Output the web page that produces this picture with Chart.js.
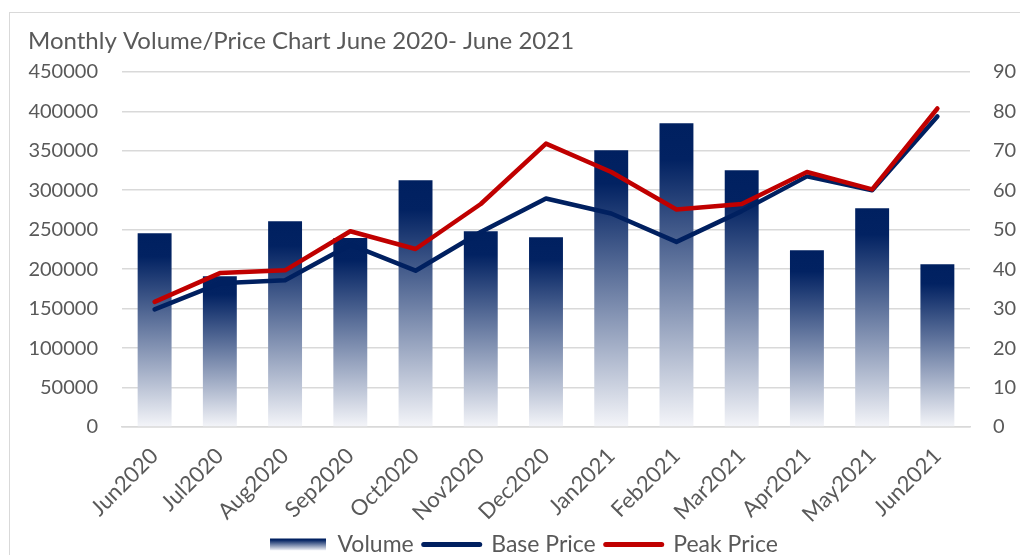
<!DOCTYPE html>
<html>
<head>
<meta charset="utf-8">
<script src="https://cdn.jsdelivr.net/npm/chart.js@4/dist/chart.umd.min.js"></script>
<style>
  html, body { margin: 0; padding: 0; background: #fff; overflow: hidden; }
  #frame { position: absolute; left: 9px; top: 12px; width: 1040px; height: 600px;
           border-left: 1px solid #d9d9d9; border-top: 1px solid #d9d9d9; }
  #wrap { position: absolute; left: 0; top: 0; width: 1020px; height: 566px; }
</style>
</head>
<body>
<div id="frame"></div>
<div id="wrap"><canvas id="chart"></canvas></div>
<script>
// data
const months = ['Jun2020', 'Jul2020', 'Aug2020', 'Sep2020', 'Oct2020', 'Nov2020', 'Dec2020',
                'Jan2021', 'Feb2021', 'Mar2021', 'Apr2021', 'May2021', 'Jun2021'];
const volume = [245500, 191000, 260800, 239600, 312700, 248000, 240500,
                350600, 384800, 325300, 224000, 277200, 206300];
const basePrice = [29.8, 36.4, 37.2, 46.2, 39.6, 49.4, 57.9, 54.1, 46.9, 54.7, 63.5, 60.0, 78.7];
const peakPrice = [31.7, 39.0, 39.7, 49.6, 45.1, 56.5, 71.8, 64.6, 55.1, 56.5, 64.6, 60.2, 80.7];
const volumeTicks = [0, 450000, 50000];   // min, max, step
const priceTicks = [0, 90, 10];
const legendOrder = ['Volume', 'Base Price', 'Peak Price'];

const navy = '#002060';
const red = '#C00000';
const grey = '#595959';
const fontFamily = 'Lato, "Open Sans", sans-serif';

function fade(ctx2d, top, bottom) {
    const g = ctx2d.createLinearGradient(0, top, 0, bottom);
    g.addColorStop(0, navy);
    g.addColorStop(0.12, '#022262');
    g.addColorStop(1, '#f4f5f9');
    return g;
}

// per-bar gradient, dark at the top of each bar
function barFill(context) {
    const chart = context.chart;
    if (!chart.chartArea || context.type !== 'data') return navy;
    const y = chart.scales.y;
    return fade(chart.ctx, y.getPixelForValue(context.raw), y.getPixelForValue(0));
}

// give the legend box for Volume the same fade
const legendFade = {
    id: 'legendFade',
    beforeDraw(chart) {
        const legend = chart.legend;
        if (!legend || !legend.legendHitBoxes || !legend.legendHitBoxes.length) return;
        const hb = legend.legendHitBoxes[0];
        const bh = legend.options.labels.boxHeight;
        const mid = hb.top + legend.options.labels.font.size / 2;
        legend.legendItems[0].fillStyle = fade(chart.ctx, mid - bh / 2, mid + bh / 2);
    }
};

const ctx = document.getElementById('chart').getContext('2d');
const myChart = new Chart(ctx, {
    data: {
        labels: months,
        datasets: [{
            type: 'line',
            label: 'Base Price',
            data: basePrice,
            yAxisID: 'y1',
            borderColor: navy,
            backgroundColor: navy,
            borderWidth: 4.5,
            pointRadius: 0,
            borderJoinStyle: 'round',
            borderCapStyle: 'round',
            order: 1
        }, {
            type: 'line',
            label: 'Peak Price',
            data: peakPrice,
            yAxisID: 'y1',
            borderColor: red,
            backgroundColor: red,
            borderWidth: 4.5,
            pointRadius: 0,
            borderJoinStyle: 'round',
            borderCapStyle: 'round',
            order: 0
        }, {
            type: 'bar',
            label: 'Volume',
            data: volume,
            yAxisID: 'y',
            backgroundColor: barFill,
            categoryPercentage: 1,
            barPercentage: 0.52,
            order: 2
        }]
    },
    options: {
        responsive: true,
        maintainAspectRatio: false,
        animation: false,
        layout: { padding: { left: 28, right: 0, top: 0, bottom: 0 } },
        plugins: {
            title: {
                display: true,
                text: 'Monthly Volume/Price Chart June 2020- June 2021',
                align: 'start',
                color: grey,
                font: { family: fontFamily, size: 24, weight: 'normal' },
                padding: { top: 27, bottom: 16 }
            },
            legend: {
                position: 'bottom',
                labels: {
                    color: grey,
                    font: { family: fontFamily, size: 23 },
                    usePointStyle: true,
                    pointStyleWidth: 56,
                    boxHeight: 12,
                    padding: 10,
                    sort: (a, b) => legendOrder.indexOf(a.text) - legendOrder.indexOf(b.text),
                    generateLabels(chart) {
                        const items = Chart.defaults.plugins.legend.labels.generateLabels(chart);
                        items.forEach(item => {
                            if (item.text === 'Volume') {
                                item.pointStyle = 'rect';
                                item.lineWidth = 0;
                            } else {
                                item.pointStyle = 'line';
                                item.lineWidth = 5;
                                item.lineCap = 'round';
                            }
                        });
                        return items;
                    }
                }
            },
            tooltip: { enabled: false }
        },
        scales: {
            x: {
                grid: { display: false, drawTicks: false },
                border: { display: true, color: '#d9d9d9', width: 1.5 },
                ticks: {
                    color: grey,
                    font: { family: fontFamily, size: 22 },
                    minRotation: 45,
                    maxRotation: 45,
                    padding: 16
                },
                afterFit(scale) { scale.height = 96; }
            },
            y: {
                position: 'left',
                min: volumeTicks[0],
                max: volumeTicks[1],
                grid: { color: '#d9d9d9', lineWidth: 1.5, drawTicks: false },
                border: { display: false },
                ticks: {
                    stepSize: volumeTicks[2],
                    color: grey,
                    font: { family: fontFamily, size: 20 },
                    padding: 24,
                    callback: v => String(v)
                },
                afterFit(scale) { scale.width = 94; }
            },
            y1: {
                position: 'right',
                min: priceTicks[0],
                max: priceTicks[1],
                grid: { display: false, drawTicks: false },
                border: { display: false },
                ticks: {
                    stepSize: priceTicks[2],
                    color: grey,
                    font: { family: fontFamily, size: 20 },
                    padding: 23
                },
                afterFit(scale) { scale.width = 50; }
            }
        }
    },
    plugins: [legendFade]
});
</script>
</body>
</html>
